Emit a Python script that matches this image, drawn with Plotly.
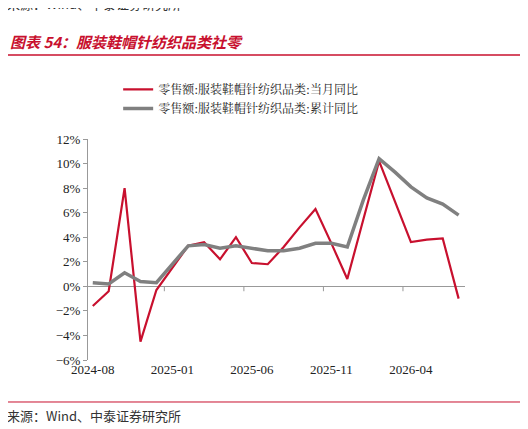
import plotly.graph_objects as go

dates = ["2024-08","2024-09","2024-10","2024-11","2024-12","2025-01","2025-02","2025-03","2025-04","2025-05","2025-06","2025-07",
         "2025-08","2025-09","2025-10","2025-11","2025-12","2026-01","2026-02","2026-03","2026-04","2026-05","2026-06","2026-07"]
monthly = [-1.6,-0.4,8.0,-4.5,-0.3,1.5,3.3,3.6,2.2,4.0,1.9,1.8,3.2,4.8,6.3,3.5,0.6,5.4,10.2,6.9,3.6,3.8,3.9,-1.0]
cumul = [0.3,0.2,1.1,0.4,0.3,1.8,3.3,3.4,3.1,3.3,3.1,2.9,2.9,3.1,3.5,3.5,3.2,7.0,10.4,9.3,8.1,7.2,6.7,5.8]
tick_labels = ["2024-08","2025-01","2025-06","2025-11","2026-04"]

x = list(range(len(dates)))
tickvals = [dates.index(t) for t in tick_labels]
font = "Liberation Serif, Noto Sans CJK SC"

fig = go.Figure()
fig.add_trace(go.Scatter(x=x, y=monthly, mode="lines", name="零售额:服装鞋帽针纺织品类:当月同比",
                         line=dict(color="#C8102E", width=2.2)))
fig.add_trace(go.Scatter(x=x, y=cumul, mode="lines", name="零售额:服装鞋帽针纺织品类:累计同比",
                         line=dict(color="#808080", width=3.5)))
fig.update_layout(
    width=528, height=429, paper_bgcolor="white", plot_bgcolor="white",
    margin=dict(l=80, r=71, t=131, b=77),
    font=dict(family=font, size=13, color="#222"),
    showlegend=True,
    legend=dict(x=0.08, y=1.29, xanchor="left", yanchor="top", bgcolor="rgba(0,0,0,0)",
                font=dict(size=12, family="Noto Serif CJK SC, Noto Sans CJK SC", color="#222"), tracegroupgap=4),
    xaxis=dict(tickmode="array", tickvals=tickvals, ticktext=tick_labels, range=[-0.3, 23.4],
               showgrid=False, zeroline=False, showline=False, ticks="", tickfont=dict(size=13)),
    yaxis=dict(range=[-6, 12], dtick=2, ticksuffix="%", showgrid=False, zeroline=True,
               zerolinecolor="#999", zerolinewidth=1, showline=True, linecolor="#999",
               ticks="outside", ticklen=4, tickcolor="#999", tickfont=dict(size=13)),
)
for tv in tickvals[1:]:
    fig.add_shape(type="line", xref="x", yref="y", x0=tv-0.5, x1=tv-0.5, y0=0, y1=-0.4, line=dict(color="#999", width=1))
fig.add_annotation(text="来源：Wind、中泰证券研究所", xref="paper", yref="paper", x=-0.22, y=1.615,
                   xanchor="left", yanchor="middle", showarrow=False,
                   font=dict(size=13, family="Noto Sans CJK SC", color="#333"))
fig.add_annotation(text="<b><i>图表 54：服装鞋帽针纺织品类社零</i></b>", xref="paper", yref="paper", x=-0.212, y=1.44,
                   xanchor="left", yanchor="middle", showarrow=False,
                   font=dict(size=15, family="Noto Sans CJK SC", color="#C8102E"))
fig.add_shape(type="line", xref="paper", yref="paper", x0=-0.22, x1=1.16, y0=1.38, y1=1.38,
              line=dict(color="#C8102E", width=1.5))
fig.add_shape(type="line", xref="paper", yref="paper", x0=-0.22, x1=1.16, y0=-0.19, y1=-0.19,
              line=dict(color="#C8102E", width=1))
fig.add_annotation(text="来源：Wind、中泰证券研究所", xref="paper", yref="paper", x=-0.22, y=-0.25,
                   xanchor="left", yanchor="middle", showarrow=False,
                   font=dict(size=13, family="Noto Sans CJK SC", color="#333"))
fig.write_html("out.html")
